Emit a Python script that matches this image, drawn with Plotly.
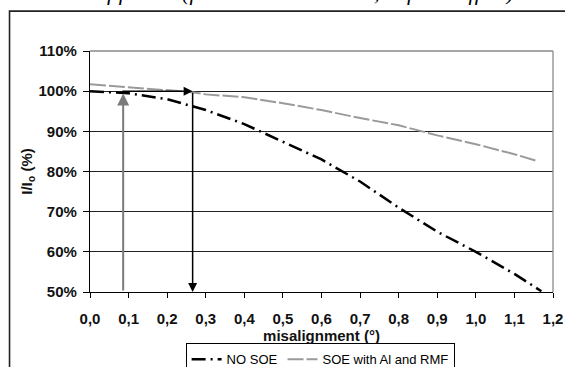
import plotly.graph_objects as go

# ---- data ----
x_no_soe = [0.0, 0.1, 0.2, 0.3, 0.4, 0.5, 0.6, 0.7, 0.8, 0.9, 1.0, 1.1, 1.17]
y_no_soe = [100.0, 99.5, 98.0, 95.3, 91.8, 87.5, 83.0, 77.5, 71.0, 65.0, 60.0, 54.5, 50.2]

x_soe = [0.0, 0.1, 0.2, 0.26, 0.3, 0.4, 0.5, 0.6, 0.7, 0.8, 0.9, 1.0, 1.1, 1.16]
y_soe = [101.7, 101.0, 100.3, 99.8, 99.2, 98.5, 97.0, 95.3, 93.3, 91.5, 89.0, 86.8, 84.3, 82.6]

x_tickvals = [0.0, 0.1, 0.2, 0.3, 0.4, 0.5, 0.6, 0.7, 0.8, 0.9, 1.0, 1.1, 1.2]
x_ticktext = ["0,0", "0,1", "0,2", "0,3", "0,4", "0,5", "0,6", "0,7", "0,8", "0,9", "1,0", "1,1", "1,2"]
y_tickvals = [50, 60, 70, 80, 90, 100, 110]
y_ticktext = ["50%", "60%", "70%", "80%", "90%", "100%", "110%"]

# arrows (misalignment values / levels)
x_arrow_soe = 0.086
x_arrow_nosoe = 0.266
y_arrow_top = 99.4
y_level = 100.0
y_bottom = 50.0

FONT = "Liberation Sans, Arial, sans-serif"

fig = go.Figure()
fig.add_trace(go.Scatter(
    x=x_no_soe, y=y_no_soe, mode="lines", name="NO SOE",
    line=dict(color="black", width=2.5, dash="14px,5px,2px,5px"),
))
fig.add_trace(go.Scatter(
    x=x_soe, y=y_soe, mode="lines", name="SOE with Al and RMF",
    line=dict(color="#9a9a9a", width=2, dash="16px,3px"),
))

annotations = [
    # gray vertical arrow (SOE)
    dict(x=x_arrow_soe, y=y_arrow_top, ax=x_arrow_soe, ay=y_bottom,
         xref="x", yref="y", axref="x", ayref="y", showarrow=True,
         arrowhead=2, arrowsize=1.2, arrowwidth=2, arrowcolor="#7a7a7a", text=""),
    # black horizontal arrow at 100%
    dict(x=x_arrow_nosoe, y=y_level, ax=0.08, ay=y_level,
         xref="x", yref="y", axref="x", ayref="y", showarrow=True,
         arrowhead=2, arrowsize=1.2, arrowwidth=1.5, arrowcolor="black", text=""),
    # black vertical arrow (NO SOE)
    dict(x=x_arrow_nosoe, y=y_bottom, ax=x_arrow_nosoe, ay=y_level,
         xref="x", yref="y", axref="x", ayref="y", showarrow=True,
         arrowhead=2, arrowsize=1.2, arrowwidth=1.5, arrowcolor="black", text=""),
    # cropped caption text at top
    dict(x=-0.195, y=1.243, xref="paper", yref="paper", xanchor="left", yanchor="middle",
         showarrow=False,
         text="<i>and shock of failure (for the NO SOE case, ... focus effect)</i>",
         font=dict(family="Liberation Serif, serif", size=22, color="black")),
]

shapes = [
    # outer frame
    dict(type="rect", xref="paper", yref="paper", x0=-0.1738, x1=1.04, y0=-0.45, y1=1.1656,
         line=dict(color="#222", width=1.6), fillcolor="rgba(0,0,0,0)", layer="above"),
    # plot area top and right border (gray)
    dict(type="line", xref="paper", yref="paper", x0=0, x1=1, y0=1, y1=1,
         line=dict(color="#8a8a8a", width=1.3), layer="above"),
    dict(type="line", xref="paper", yref="paper", x0=1, x1=1, y0=0, y1=1,
         line=dict(color="#8a8a8a", width=1.3), layer="above"),
]

fig.update_layout(
    width=565, height=367,
    margin=dict(l=90, r=12, t=51, b=74.5, autoexpand=False),
    paper_bgcolor="white", plot_bgcolor="white",
    font=dict(family=FONT, color="black"),
    showlegend=True,
    legend=dict(orientation="h", x=0.497, xanchor="center", y=-0.2133, yanchor="top",
                bordercolor="black", borderwidth=1, bgcolor="white",
                font=dict(family=FONT, size=13, color="black"),
                itemwidth=30, tracegroupgap=0),
    annotations=annotations,
    shapes=shapes,
    xaxis=dict(range=[0, 1.2], tickvals=x_tickvals, ticktext=x_ticktext,
               automargin=False,
               showgrid=False, zeroline=False, showline=True, linecolor="black", linewidth=1.3,
               ticks="outside", ticklen=5, tickwidth=1.3, tickcolor="black",
               ticklabelstandoff=8,
               tickfont=dict(family=FONT, size=15, color="#111", weight="bold"),
               title=dict(text="<b>misalignment (°)</b>", standoff=4,
                          font=dict(family=FONT, size=15, color="#111"))),
    yaxis=dict(range=[50, 110], tickvals=y_tickvals, ticktext=y_ticktext,
               automargin=False,
               showgrid=True, gridcolor="#222", gridwidth=1.2,
               zeroline=False, showline=True, linecolor="black", linewidth=1.3,
               ticks="outside", ticklen=6, tickwidth=1.3, tickcolor="black",
               ticklabelstandoff=3,
               tickfont=dict(family=FONT, size=15, color="#111", weight="bold"),
               title=dict(text="<b>I/I<sub>o</sub> (%)</b>", standoff=2,
                          font=dict(family=FONT, size=15, color="#111"))),
)

fig.write_html("out.html")
